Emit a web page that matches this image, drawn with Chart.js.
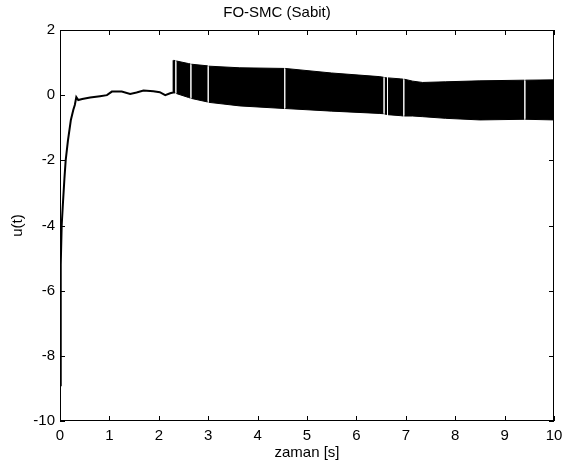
<!DOCTYPE html>
<html>
<head>
<meta charset="utf-8">
<script src="https://cdn.jsdelivr.net/npm/chart.js@4.4.1/dist/chart.umd.min.js"></script>
<style>
  html, body { margin: 0; padding: 0; background: #fff; }
  #wrap { width: 563px; height: 470px; }
</style>
</head>
<body>
<div id="wrap"><canvas id="c" width="563" height="470"></canvas></div>
<script>
// ---- data ----
const mainT = [0, 0.01, 0.02, 0.034, 0.06, 0.09, 0.115, 0.16, 0.22, 0.27, 0.30, 0.33, 0.37, 0.45, 0.61, 0.81, 0.95, 1.05, 1.25, 1.42, 1.55, 1.69, 1.89, 2.02, 2.13, 2.23, 2.29, 2.30];
const mainU = [-8.9, -6.8, -5.2, -4.0, -3.3, -2.55, -2.0, -1.4, -0.76, -0.45, -0.3, -0.06, -0.15, -0.12, -0.07, -0.03, 0.0, 0.11, 0.11, 0.04, 0.08, 0.14, 0.12, 0.09, 0.0, 0.06, 0.08, 1.07];

// chattering band: upper / lower envelopes (null = thin white gap in the band)
const bandT     = [2.30, 2.335, 2.345, 2.355, 2.60, 2.64, 2.65, 2.66, 2.99, 3.00, 3.01, 3.64, 4.54, 4.55, 4.56, 5.50, 6.46, 6.55, 6.56, 6.57, 6.62, 6.63, 6.64, 6.90, 6.95, 6.96, 6.97, 7.14, 7.34, 7.80, 8.50, 9.40, 9.41, 9.42, 10.0];
const bandUpper = [1.07, 1.06, null, 1.05, 0.97, 0.96, null, 0.95, 0.90, null, 0.89, 0.84, 0.82, null, 0.82, 0.68, 0.57, 0.55, null, 0.54, 0.53, null, 0.53, 0.50, 0.49, null, 0.49, 0.43, 0.39, 0.41, 0.44, 0.46, null, 0.46, 0.47];
const bandLower = [0.08, 0.07, null, 0.05, -0.07, -0.09, null, -0.10, -0.21, null, -0.22, -0.33, -0.41, null, -0.41, -0.49, -0.56, -0.57, null, -0.58, -0.59, null, -0.60, -0.63, -0.64, null, -0.64, -0.64, -0.66, -0.71, -0.76, -0.74, null, -0.74, -0.76];

const xTickStep = 1, xMin = 0, xMax = 10;
const yTickStep = 2, yMin = -10, yMax = 2;
const titleText = 'FO-SMC (Sabit)';
const xLabel = 'zaman [s]';
const yLabel = 'u(t)';

const pts = (ts, vs) => ts.map((t, i) => ({ x: t, y: vs[i] }));
const FONT = 'Liberation Sans, Arial, Helvetica, sans-serif';
const FS = 15;

const framePlugin = {
  id: 'frame',
  afterDraw(chart) {
    const { ctx, chartArea: a, scales } = chart;
    ctx.save();
    ctx.strokeStyle = '#000';
    ctx.lineWidth = 1;
    ctx.strokeRect(Math.round(a.left) + 0.5, Math.round(a.top) + 0.5,
                   Math.round(a.right - a.left) - 1, Math.round(a.bottom - a.top) - 1);
    const L = 5;
    ctx.beginPath();
    scales.x.ticks.forEach(t => {
      const px = Math.round(scales.x.getPixelForValue(t.value)) + 0.5;
      ctx.moveTo(px, a.bottom); ctx.lineTo(px, a.bottom - L);
      ctx.moveTo(px, a.top); ctx.lineTo(px, a.top + L);
    });
    scales.y.ticks.forEach(t => {
      const py = Math.round(scales.y.getPixelForValue(t.value)) + 0.5;
      ctx.moveTo(a.left, py); ctx.lineTo(a.left + L, py);
      ctx.moveTo(a.right, py); ctx.lineTo(a.right - L, py);
    });
    ctx.stroke();
    ctx.restore();
  }
};

new Chart(document.getElementById('c'), {
  type: 'line',
  data: {
    datasets: [
      { data: pts(bandT, bandUpper), borderColor: '#000', borderWidth: 1, pointRadius: 0, fill: false, spanGaps: false },
      { data: pts(bandT, bandLower), borderColor: '#000', borderWidth: 1, pointRadius: 0, fill: '-1', backgroundColor: '#000', spanGaps: false },
      { data: pts(mainT, mainU), borderColor: '#000', borderWidth: 2, pointRadius: 0, fill: false }
    ]
  },
  options: {
    responsive: false,
    animation: false,
    devicePixelRatio: 1,
    layout: { padding: { left: 0, right: 9, top: 0, bottom: 0 } },
    plugins: {
      legend: { display: false },
      tooltip: { enabled: false },
      title: { display: true, text: titleText, color: '#000',
               font: { family: FONT, size: FS, weight: 'normal' },
               padding: { top: 4, bottom: 8 } }
    },
    scales: {
      x: {
        type: 'linear', min: xMin, max: xMax,
        ticks: { stepSize: xTickStep, color: '#000', padding: 6, maxRotation: 0,
                 font: { family: FONT, size: FS } },
        grid: { display: false, drawTicks: false },
        border: { display: false },
        title: { display: true, text: xLabel, color: '#000',
                 font: { family: FONT, size: FS }, padding: { top: 0, bottom: 8 } },
        afterFit: s => { s.height = 49; s.paddingLeft = 0; s.paddingRight = 0; }
      },
      y: {
        type: 'linear', min: yMin, max: yMax,
        ticks: { stepSize: yTickStep, color: '#000', padding: 5,
                 font: { family: FONT, size: FS } },
        grid: { display: false, drawTicks: false },
        border: { display: false },
        title: { display: true, text: yLabel, color: '#000',
                 font: { family: FONT, size: FS }, padding: { top: 9, bottom: 0 } },
        afterFit: s => { s.width = 60; s.paddingTop = 0; s.paddingBottom = 0; }
      }
    }
  },
  plugins: [framePlugin]
});
</script>
</body>
</html>
